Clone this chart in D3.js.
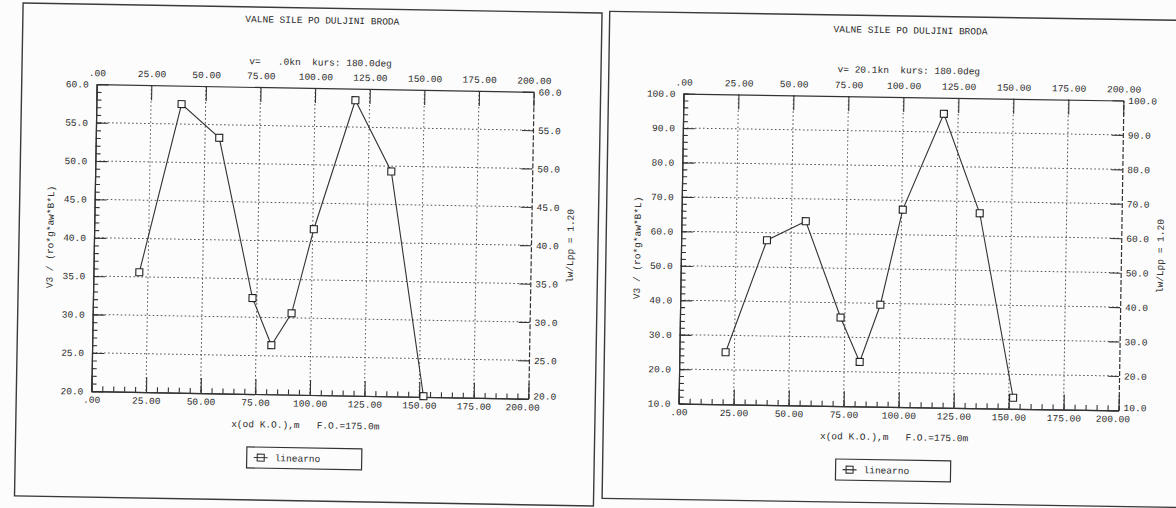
<!DOCTYPE html>
<html><head><meta charset="utf-8">
<script src="https://cdn.jsdelivr.net/npm/d3@7"></script>
<style>
body{margin:0;background:#fcfcfc}
text{font-family:"Liberation Mono","DejaVu Sans Mono",monospace;font-size:9.5px;fill:#2a2a2a;white-space:pre}
</style>
</head><body>
<svg id="c" width="1176" height="508"></svg>
<script>
// ---------- data ----------
const titleText = "VALNE SILE PO DULJINI BRODA";
const xLabelText = "x(od K.O.),m   F.O.=175.0m";
const yLabelText = "V3 / (ro*g*aw*B*L)";
const y2LabelText = "lw/Lpp = 1.20";
const legendLabel = "linearno";
const xTicks = [0, 25, 50, 75, 100, 125, 150, 175, 200];
const stations = [21, 39, 56.5, 73, 82, 91, 100.5, 118.5, 135.5, 152];

const subtitleA = "v=   .0kn  kurs: 180.0deg";
const yTicksA = [20, 25, 30, 35, 40, 45, 50, 55, 60];
const valuesA = [35.6, 57.6, 53.3, 32.5, 26.4, 30.6, 41.6, 58.5, 49.3, 20.1];

const subtitleB = "v= 20.1kn  kurs: 180.0deg";
const yTicksB = [10, 20, 30, 40, 50, 60, 70, 80, 90, 100];
const valuesB = [25.1, 57.8, 63.5, 35.7, 22.9, 39.6, 67.3, 95.3, 66.6, 13.2];

// ---------- drawing ----------
const svg = d3.select("#c");
const fmtX = v => v === 0 ? ".00" : v.toFixed(2);
const fmtY = v => v.toFixed(1);

function panel(cfg, subtitle, yTicks, values) {
  const p = cfg.plot;
  const cx = (p.l + p.r) / 2, cy = (p.t + p.b) / 2;
  const g = svg.append("g").attr("transform", `rotate(${cfg.rot},${cx},${cy})`);

  // frame
  const f = cfg.frame;
  g.append("rect").attr("x", f.x).attr("y", f.y).attr("width", f.w).attr("height", f.h)
    .attr("fill", "none").attr("stroke", "#3a3a3a").attr("stroke-width", 1.4);

  const x = d3.scaleLinear().domain([0, 200]).range([p.l, p.r]);
  const y = d3.scaleLinear().domain([yTicks[0], yTicks[yTicks.length - 1]]).range([p.b, p.t]);
  const step = yTicks[1] - yTicks[0];
  const yMinor = d3.range(yTicks[0], yTicks[yTicks.length - 1] + 1e-9, step / 5);
  const xMinor = d3.range(0, 200.0001, 5);

  // grid
  const grid = g.append("g").attr("stroke", "#555").attr("stroke-width", 1).attr("stroke-dasharray", "1.6,2.4");
  xTicks.slice(1, -1).forEach(v => grid.append("line")
    .attr("x1", x(v)).attr("x2", x(v)).attr("y1", p.t).attr("y2", p.b));
  yTicks.slice(1, -1).forEach(v => grid.append("line")
    .attr("x1", p.l).attr("x2", p.r).attr("y1", y(v)).attr("y2", y(v)));

  function style(sel) {
    sel.selectAll("path.domain").attr("stroke", "#333").attr("stroke-width", 1.2);
    sel.selectAll(".tick line").attr("stroke", "#333").attr("stroke-width", 1.1);
    sel.selectAll(".tick text").attr("font-family", null).attr("font-size", null).attr("fill", "#2a2a2a");
  }
  // bottom
  g.append("g").attr("transform", `translate(0,${p.b})`)
    .call(d3.axisBottom(x).tickValues(xMinor).tickSizeInner(-5).tickSizeOuter(0).tickFormat(""))
    .call(style);
  const bx = g.append("g").attr("transform", `translate(0,${p.b})`)
    .call(d3.axisBottom(x).tickValues(xTicks).tickSizeInner(-15).tickSizeOuter(0).tickPadding(5).tickFormat(fmtX))
    .call(style);
  bx.selectAll(".tick text").filter(d => d === 200).attr("dx", "-6");
  // top
  g.append("g").attr("transform", `translate(0,${p.t})`)
    .call(d3.axisTop(x).tickValues(xTicks).tickSizeInner(-15).tickSizeOuter(0).tickPadding(8).tickFormat(fmtX))
    .call(style);
  // left
  g.append("g").attr("transform", `translate(${p.l},0)`)
    .call(d3.axisLeft(y).tickValues(yMinor).tickSizeInner(-5).tickSizeOuter(0).tickFormat(""))
    .call(style);
  g.append("g").attr("transform", `translate(${p.l},0)`)
    .call(d3.axisLeft(y).tickValues(yTicks).tickSizeInner(-12).tickSizeOuter(0).tickPadding(8).tickFormat(fmtY))
    .call(style);
  // right (dashed axis line)
  const ra = g.append("g").attr("transform", `translate(${p.r},0)`)
    .call(d3.axisRight(y).tickValues(yTicks).tickSizeInner(-11).tickSizeOuter(0).tickPadding(5).tickFormat(fmtY))
    .call(style);
  ra.select("path.domain").attr("stroke-dasharray", "5,2");
  ra.selectAll(".tick text").filter(d => d === yTicks[0]).attr("y", -3);

  // series
  const pts = stations.map((s, i) => [s, values[i]]);
  g.append("path").datum(pts)
    .attr("fill", "none").attr("stroke", "#333").attr("stroke-width", 1.1)
    .attr("d", d3.line().x(d => x(d[0])).y(d => y(d[1])));
  g.append("g").selectAll("rect").data(pts).join("rect")
    .attr("x", d => x(d[0]) - 3.5).attr("y", d => y(d[1]) - 3.5)
    .attr("width", 7).attr("height", 7)
    .attr("fill", "#fcfcfc").attr("stroke", "#222").attr("stroke-width", 1.1);

  // texts
  g.append("text").attr("x", cx + 6).attr("y", cfg.titleY).attr("dy", "0.35em")
    .attr("text-anchor", "middle").text(titleText);
  g.append("text").attr("x", cx + 5).attr("y", cfg.subY).attr("dy", "0.35em")
    .attr("text-anchor", "middle").text(subtitle);
  g.append("text").attr("x", cx - 4).attr("y", p.b + 30).attr("dy", "0.35em")
    .attr("text-anchor", "middle").text(xLabelText);
  g.append("text").attr("transform", `translate(${p.l - 44},${cy}) rotate(-90)`)
    .attr("dy", "0.35em").attr("text-anchor", "middle").text(yLabelText);
  g.append("text").attr("transform", `translate(${p.r + 39},${cy}) rotate(-90)`)
    .attr("dy", "0.35em").attr("text-anchor", "middle").text(y2LabelText);

  // legend
  const lx = cx - 62, ly = p.b + 53;
  g.append("rect").attr("x", lx).attr("y", ly).attr("width", 115).attr("height", 21)
    .attr("fill", "none").attr("stroke", "#333").attr("stroke-width", 1.2);
  g.append("line").attr("x1", lx + 7).attr("x2", lx + 21).attr("y1", ly + 10.5).attr("y2", ly + 10.5)
    .attr("stroke", "#333").attr("stroke-width", 1.1);
  g.append("rect").attr("x", lx + 10.5).attr("y", ly + 7).attr("width", 7).attr("height", 7)
    .attr("fill", "none").attr("stroke", "#333").attr("stroke-width", 1.1);
  g.append("text").attr("x", lx + 28).attr("y", ly + 10.5).attr("dy", "0.35em").text(legendLabel);
}

panel({
  plot: {l: 94, r: 531, t: 88, b: 395}, rot: 1.0,
  frame: {x: 19, y: 8, w: 579, h: 493},
  titleY: 20, subY: 62
}, subtitleA, yTicksA, valuesA);

panel({
  plot: {l: 681, r: 1121, t: 97, b: 407}, rot: 0.9,
  frame: {x: 606, y: 16, w: 600, h: 487},
  titleY: 30, subY: 70
}, subtitleB, yTicksB, valuesB);
</script>
</body></html>
